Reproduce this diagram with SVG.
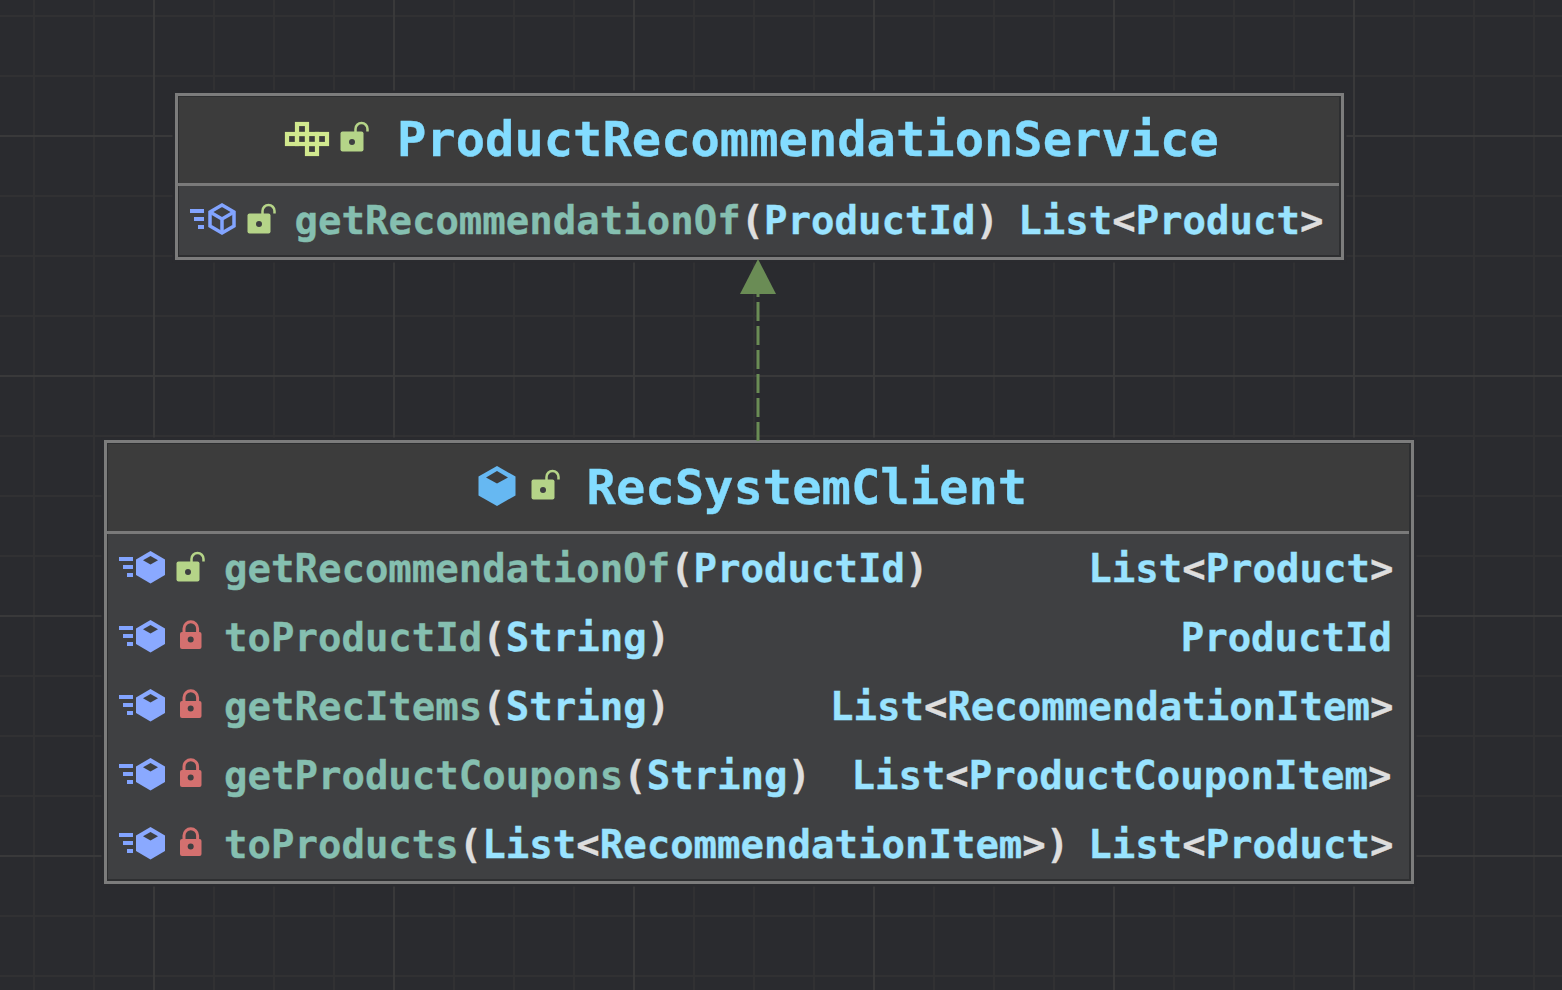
<svg xmlns="http://www.w3.org/2000/svg" width="1562" height="990" viewBox="0 0 1562 990">
<style>
text{font-family:"DejaVu Sans Mono","Liberation Mono",monospace;font-weight:bold;white-space:pre}
.t{font-size:48.9px;fill:#83dcff;stroke:#83dcff;stroke-width:.35}
.r{font-size:39px;fill:#99e3ff;stroke:#99e3ff;stroke-width:.35}
.m{fill:#85bfb0;stroke:#85bfb0}
.p{fill:#dedede;stroke:#dedede}
.minor{stroke:#313133;stroke-width:2}
.major{stroke:#39393a;stroke-width:2}
.frame{fill:#2e2f31;stroke:#7c7c7c;stroke-width:3}
.halo{fill:#2a2b2f;stroke:#2a2b2f;stroke-width:8}
.head{fill:#3c3c3c}
.body{fill:#3f4042}
.div{fill:#7a7a7a}
</style>
<defs>
<g id="openLock"><rect x="-.5" y="-.5" width="23" height="20" rx="2" fill="#b5d488"/><path d="M14.500 1V-3a6 6 0 0 1 12 0v2.500" fill="none" stroke="#b5d488" stroke-width="2.500"/><circle cx="11" cy="10" r="3" fill="#3e3f41"/></g>
<g id="closedLock"><rect width="21.500" height="17" rx="2" fill="#d4706f"/><path d="M4 1V-3.500a6.800 6.800 0 0 1 13.600 0V1" fill="none" stroke="#d4706f" stroke-width="3"/><circle cx="10.700" cy="7.500" r="3" fill="#3e3f41"/></g>
<g id="speed" fill="#82a4ff"><rect width="14" height="4"/><rect x="4" y="8" width="10" height="4"/><rect x="8" y="16" width="6" height="4"/></g>
<g id="cubeFill"><path d="M14.500 0L29 8.500V24L14.500 32.500L0 24V8.500Z" fill="#8aa9ff"/><path d="M14.500 5L22 9.300L14.500 13.500L7 9.300Z" fill="#3e3f41"/></g>
</defs>
<rect width="1562" height="990" fill="#2a2b2f"/>
<g id="grid">
<path class="minor" d="M34 0V990M94 0V990M214 0V990M274 0V990M334 0V990M454 0V990M514 0V990M574 0V990M694 0V990M754 0V990M814 0V990M934 0V990M994 0V990M1054 0V990M1174 0V990M1234 0V990M1294 0V990M1414 0V990M1474 0V990M1534 0V990"/>
<path class="minor" d="M0 16H1562M0 76H1562M0 196H1562M0 256H1562M0 316H1562M0 436H1562M0 496H1562M0 556H1562M0 676H1562M0 736H1562M0 796H1562M0 916H1562M0 976H1562"/>
<path class="major" d="M154 0V990M394 0V990M634 0V990M874 0V990M1114 0V990M1354 0V990M0 136H1562M0 376H1562M0 616H1562M0 856H1562"/>
</g>
<g id="ProductRecommendationService">
<rect class="halo" x="176.500" y="94.500" width="1166" height="164"/>
<rect class="frame" x="176.500" y="94.500" width="1166" height="164"/>
<rect class="head" x="179" y="97" width="1160" height="86"/>
<rect class="div" x="178" y="183" width="1161" height="3"/>
<rect class="body" x="179" y="186" width="1160" height="69"/>
<g fill="none" stroke="#d1e88e" stroke-width="4.200"><rect x="297" y="124" width="10" height="10"/><rect x="287" y="134" width="10" height="10"/><rect x="297" y="134" width="10" height="10"/><rect x="307" y="134" width="10" height="10"/><rect x="317" y="134" width="10" height="10"/><rect x="307" y="144" width="10" height="10"/></g>
<use href="#openLock" x="341" y="132"/>
<text class="t" x="397" y="155.500" style="font-size:48.75px">ProductRecommendationService</text>
<use href="#speed" x="190" y="209"/>
<g fill="none" stroke="#82a4ff" stroke-width="3.500"><path d="M222 205L234 212V226L222 233L210 226V212Z"/><path d="M210 212L222 219L234 212M222 219V233"/></g>
<use href="#openLock" x="248" y="214"/>
<text class="r" x="294.500" y="234"><tspan class="m">getRecommendationOf</tspan><tspan class="p">(</tspan>ProductId<tspan class="p">)</tspan></text>
<text class="r" x="1323.500" y="234" text-anchor="end">List<tspan class="p">&lt;</tspan>Product<tspan class="p">&gt;</tspan></text>
</g>
<g id="RecSystemClient">
<rect class="halo" x="105.500" y="441.500" width="1307" height="441"/>
<rect class="frame" x="105.500" y="441.500" width="1307" height="441"/>
<rect class="head" x="108" y="444" width="1301" height="87"/>
<rect class="div" x="107" y="531" width="1302" height="3"/>
<rect class="body" x="108" y="534" width="1301" height="345"/>
<path d="M497 466L515.500 476.500V495.500L497 506L478.500 495.500V476.500Z" fill="#66b8f2"/><path d="M497 471L508 477.500L497 483.500L486 477.500Z" fill="#3c3c3c"/>
<use href="#openLock" x="532" y="480"/>
<text class="t" x="586.500" y="504" style="font-size:48.8px">RecSystemClient</text>
<use href="#speed" x="119" y="557"/><use href="#cubeFill" x="136" y="551"/><use href="#openLock" x="177" y="562"/>
<text class="r" x="224" y="582"><tspan class="m">getRecommendationOf</tspan><tspan class="p">(</tspan>ProductId<tspan class="p">)</tspan></text>
<text class="r" x="1393.500" y="582" text-anchor="end">List<tspan class="p">&lt;</tspan>Product<tspan class="p">&gt;</tspan></text>
<use href="#speed" x="119" y="626"/><use href="#cubeFill" x="136" y="620"/><use href="#closedLock" x="180" y="632"/>
<text class="r" x="224" y="651"><tspan class="m">toProductId</tspan><tspan class="p">(</tspan>String<tspan class="p">)</tspan></text>
<text class="r" x="1392" y="651" text-anchor="end">ProductId</text>
<use href="#speed" x="119" y="695"/><use href="#cubeFill" x="136" y="689"/><use href="#closedLock" x="180" y="701"/>
<text class="r" x="224" y="720"><tspan class="m">getRecItems</tspan><tspan class="p">(</tspan>String<tspan class="p">)</tspan></text>
<text class="r" x="1393.500" y="720" text-anchor="end">List<tspan class="p">&lt;</tspan>RecommendationItem<tspan class="p">&gt;</tspan></text>
<use href="#speed" x="119" y="764"/><use href="#cubeFill" x="136" y="758"/><use href="#closedLock" x="180" y="770"/>
<text class="r" x="224" y="789"><tspan class="m">getProductCoupons</tspan><tspan class="p">(</tspan>String<tspan class="p">)</tspan></text>
<text class="r" x="1391.500" y="789" text-anchor="end">List<tspan class="p">&lt;</tspan>ProductCouponItem<tspan class="p">&gt;</tspan></text>
<use href="#speed" x="119" y="833"/><use href="#cubeFill" x="136" y="827"/><use href="#closedLock" x="180" y="839"/>
<text class="r" x="224" y="858"><tspan class="m">toProducts</tspan><tspan class="p">(</tspan>List<tspan class="p">&lt;</tspan>RecommendationItem<tspan class="p">&gt;)</tspan></text>
<text class="r" x="1393.500" y="858" text-anchor="end">List<tspan class="p">&lt;</tspan>Product<tspan class="p">&gt;</tspan></text>
</g>
<g id="connectors">
<path d="M758 441V293" fill="none" stroke="#6a8c55" stroke-width="3" stroke-dasharray="19 5"/>
<path d="M758 259L776 294H740Z" fill="#6a8c55"/>
</g>
</svg>
